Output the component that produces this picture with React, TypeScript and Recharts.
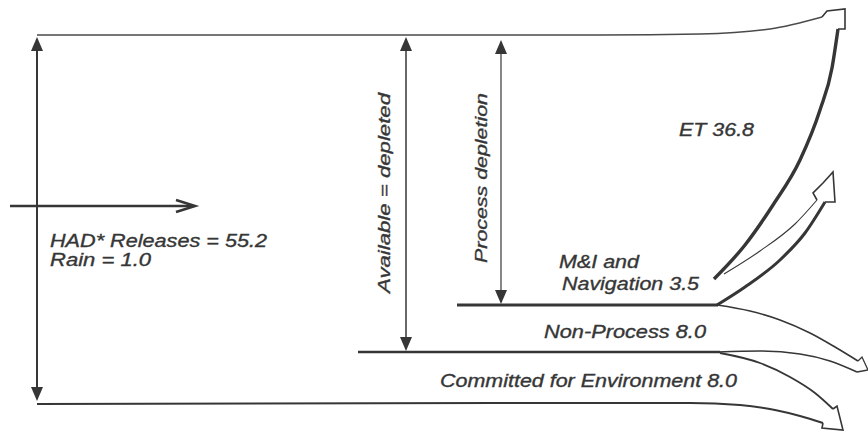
import { ComposedChart, Line, Scatter, XAxis, YAxis } from "recharts";

type Pt = { x: number; y: number };

// diagram space: x 0..868 left->right, y 0..432 top->bottom (axis reversed)
const topFlow: Pt[] = [
  { x: 37, y: 35 }, { x: 600, y: 35 }, { x: 700, y: 34 }, { x: 770, y: 29 }, { x: 822, y: 17 },
];
const topHead: Pt[] = [
  { x: 822, y: 17 }, { x: 827, y: 11 }, { x: 845, y: 9 }, { x: 845, y: 29 }, { x: 838, y: 29 },
];
const etCurve: Pt[] = [
  { x: 714, y: 279 }, { x: 745, y: 245 }, { x: 773, y: 205 }, { x: 800, y: 160 },
  { x: 820, y: 110 }, { x: 832, y: 68 }, { x: 838, y: 29 },
];
const miOuter: Pt[] = [
  { x: 717, y: 305 }, { x: 745, y: 287 }, { x: 780, y: 260 }, { x: 805, y: 233 }, { x: 825, y: 202 },
];
const miInner: Pt[] = [
  { x: 724, y: 274 }, { x: 760, y: 251 }, { x: 795, y: 224 }, { x: 817, y: 200 },
];
const miHead: Pt[] = [
  { x: 817, y: 200 }, { x: 813, y: 193 }, { x: 823, y: 183 }, { x: 833, y: 172 }, { x: 835, y: 202 }, { x: 825, y: 202 },
];
const processLine: Pt[] = [{ x: 457, y: 305 }, { x: 718, y: 305 }];
const nonProcessLine: Pt[] = [{ x: 358, y: 352 }, { x: 720, y: 352 }];
const npUpper: Pt[] = [
  { x: 717, y: 305 }, { x: 750, y: 311 }, { x: 780, y: 320 }, { x: 810, y: 333 }, { x: 835, y: 347 }, { x: 858, y: 361 },
];
const npHead: Pt[] = [{ x: 858, y: 361 }, { x: 862, y: 357 }, { x: 868, y: 370 }, { x: 857, y: 372 }];
const npLower: Pt[] = [
  { x: 718, y: 352 }, { x: 760, y: 351 }, { x: 800, y: 354 }, { x: 830, y: 361 }, { x: 857, y: 372 },
];
const envUpper: Pt[] = [
  { x: 720, y: 353 }, { x: 760, y: 363 }, { x: 790, y: 377 }, { x: 815, y: 393 }, { x: 833, y: 409 },
];
const envHead: Pt[] = [{ x: 833, y: 409 }, { x: 837, y: 406 }, { x: 843, y: 430 }, { x: 822, y: 428 }, { x: 823, y: 423 }];
const bottomFlow: Pt[] = [
  { x: 37, y: 404 }, { x: 690, y: 403 }, { x: 740, y: 405 }, { x: 775, y: 410 }, { x: 800, y: 416 }, { x: 823, y: 423 },
];
const leftDim: Pt[] = [{ x: 37, y: 40 }, { x: 37, y: 398 }];
const availDim: Pt[] = [{ x: 406, y: 40 }, { x: 406, y: 348 }];
const procDim: Pt[] = [{ x: 501, y: 44 }, { x: 501, y: 302 }];
const inflow: Pt[] = [{ x: 10, y: 206 }, { x: 192, y: 206 }];
const inflowHead: Pt[] = [{ x: 176, y: 200 }, { x: 195, y: 206 }, { x: 176, y: 212 }];

const heads = [
  { x: 37, y: 37, dir: "up" }, { x: 37, y: 401, dir: "down" },
  { x: 406, y: 37, dir: "up" }, { x: 406, y: 351, dir: "down" },
  { x: 501, y: 40, dir: "up" }, { x: 501, y: 304, dir: "down" },
];

const labels = [
  { x: 50, y: 247, text: "HAD* Releases = 55.2", angle: 0 },
  { x: 50, y: 266, text: "Rain = 1.0", angle: 0 },
  { x: 679, y: 136, text: "ET 36.8", angle: 0 },
  { x: 559, y: 268, text: "M&I and", angle: 0 },
  { x: 562, y: 290, text: "Navigation 3.5", angle: 0 },
  { x: 544, y: 338, text: "Non-Process 8.0", angle: 0 },
  { x: 440, y: 387, text: "Committed for Environment 8.0", angle: 0 },
  { x: 390, y: 193, text: "Available = depleted", angle: -90 },
  { x: 487, y: 178, text: "Process depletion", angle: -90 },
];
const labelWidths: Record<string, number> = {
  "HAD* Releases = 55.2": 217,
  "Rain = 1.0": 101,
  "ET 36.8": 75,
  "M&I and": 80,
  "Navigation 3.5": 137,
  "Non-Process 8.0": 162,
  "Committed for Environment 8.0": 297,
  "Available = depleted": 200,
  "Process depletion": 170,
};

const ink = "#363636";
const font = "'Liberation Sans', Arial, sans-serif";

const Triangle = (props: any) => {
  const { cx, cy, payload } = props;
  const d = payload.dir === "up" ? 1 : -1;
  return (
    <polygon
      points={`${cx},${cy} ${cx - 6},${cy + d * 14} ${cx + 6},${cy + d * 14}`}
      fill={ink}
    />
  );
};

const TextMark = (props: any) => {
  const { cx, cy, payload } = props;
  const rotated = payload.angle !== 0;
  return (
    <text
      x={cx}
      y={cy}
      transform={rotated ? `rotate(${payload.angle} ${cx} ${cy})` : undefined}
      textAnchor={rotated ? "middle" : "start"}
      fontFamily={font}
      fontStyle="italic"
      fontSize={rotated ? 17 : 18}
      fill={ink}
      stroke={ink}
      strokeWidth={0.35}
      textLength={labelWidths[payload.text]}
      lengthAdjust="spacingAndGlyphs"
    >
      {payload.text}
    </text>
  );
};

const path = (data: Pt[], width: number, curve: "monotone" | "linear" = "monotone", color = ink) => (
  <Line
    data={data}
    dataKey="y"
    type={curve}
    stroke={color}
    strokeWidth={width}
    strokeLinejoin="miter"
    dot={false}
    activeDot={false}
    isAnimationActive={false}
  />
);

export default function App() {
  return (
    <div style={{ position: "absolute", left: 0, top: 0, background: "#fff" }}>
      <ComposedChart width={868} height={432} margin={{ top: 0, right: 0, bottom: 0, left: 0 }}>
        <XAxis type="number" dataKey="x" domain={[0, 868]} hide />
        <YAxis type="number" dataKey="y" domain={[0, 432]} reversed hide />
        {path(topFlow, 1.4, "monotone", "#4a4a4a")}
        {path(topHead, 1.6, "linear")}
        {path(etCurve, 3.4)}
        {path(miOuter, 3)}
        {path(miInner, 1.1)}
        {path(miHead, 1.6, "linear")}
        {path(processLine, 3, "linear")}
        {path(nonProcessLine, 2.4, "linear")}
        {path(npUpper, 1.6)}
        {path(npHead, 1.3, "linear")}
        {path(npLower, 1.6)}
        {path(envUpper, 1.8)}
        {path(envHead, 1.6, "linear")}
        {path(bottomFlow, 2)}
        {path(leftDim, 2, "linear")}
        {path(availDim, 1.5, "linear")}
        {path(procDim, 1.2, "linear")}
        {path(inflow, 2.6, "linear")}
        {path(inflowHead, 2.6, "linear")}
        <Scatter data={heads} shape={Triangle} isAnimationActive={false} />
        <Scatter data={labels} shape={TextMark} isAnimationActive={false} />
      </ComposedChart>
    </div>
  );
}
